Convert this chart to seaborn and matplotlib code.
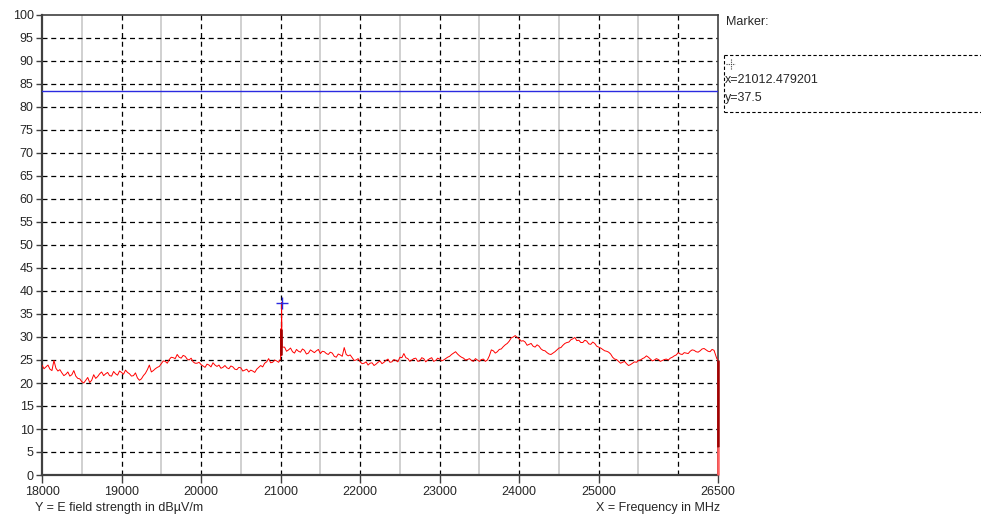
import numpy as np
import pandas as pd
import matplotlib
matplotlib.use("Agg")
import matplotlib.pyplot as plt
from matplotlib.lines import Line2D
import seaborn as sns

# Measured field strength trace, dBµV/m.
# Band A: 18000-21000 MHz, samples every 50 MHz plus the in-between readings.
level_a = [
    23.9, 23.5, 23.0, 24.9, 22.6, 22.2, 21.9, 21.5, 22.7, 21.0,
    20.3, 20.6, 20.1, 21.8, 21.4, 22.4, 22.0, 21.6, 22.5, 21.7,
    22.3, 22.8, 22.0, 21.6, 21.1, 20.9, 22.1, 23.9, 22.7, 23.4,
    24.2, 24.7, 25.1, 25.5, 26.2, 25.4, 25.8, 25.0, 24.6, 24.3,
    24.0, 23.4, 23.9, 24.4, 23.6, 23.2, 23.8, 23.1, 23.5, 22.9,
    23.3, 22.8, 22.4, 22.6, 23.0, 23.8, 24.3, 25.3, 24.5, 24.8,
    25.2,
]
level_a_mid = [
    23.1, 23.9, 22.7, 23.2, 22.9, 21.6, 22.4, 21.8, 21.5, 20.9,
    20.0, 21.2, 20.6, 21.0, 22.0, 21.6, 22.3, 21.5, 22.0, 22.6,
    21.9, 22.3, 21.5, 22.2, 20.6, 21.6, 22.9, 22.4, 23.1, 23.6,
    24.8, 24.3, 25.6, 25.3, 25.6, 26.0, 25.2, 25.4, 24.3, 24.5,
    23.7, 24.1, 23.5, 23.9, 23.9, 23.4, 23.3, 23.7, 23.0, 23.4,
    22.6, 23.0, 22.8, 22.3, 23.4, 23.5, 24.6, 24.4, 25.0, 24.5,
]
# Band B: 21050-26450 MHz
level_b = [
    27.8, 27.2, 26.8, 27.3, 26.7, 27.1, 26.5, 26.9, 27.0, 26.4,
    26.8, 26.2, 26.5, 25.6, 26.1, 27.7, 25.9, 25.5, 25.0, 24.6,
    24.3, 23.9, 24.4, 24.1, 24.8, 24.5, 25.2, 24.6, 24.9, 25.6,
    26.4, 25.3, 25.0, 25.4, 24.8, 25.3, 25.0, 25.5, 24.9, 25.2,
    25.0, 25.6, 26.2, 26.8, 25.9, 25.4, 25.1, 24.9, 25.3, 24.7,
    25.2, 25.0, 27.2, 26.5, 27.3, 27.9, 28.6, 29.8, 30.3, 29.6,
    29.2, 28.2, 28.6, 27.8, 28.0, 27.1, 26.6, 26.2, 26.8, 27.6,
    28.2, 28.8, 29.4, 29.9, 29.3, 28.8, 29.1, 28.4, 28.6, 27.8,
    27.3, 26.9, 26.3, 25.2, 24.7, 24.5, 24.2, 24.0, 24.6, 24.9,
    25.3, 25.9, 25.2, 25.0, 25.1, 24.9, 25.2, 25.4, 25.9, 26.6,
    26.2, 26.5, 26.9, 27.1, 26.7, 27.4, 27.2, 26.8, 27.1,
]
level_b_mid = [
    26.9, 27.6, 26.5, 26.9, 27.4, 26.3, 27.2, 26.6, 27.3, 26.9,
    26.4, 26.7, 25.8, 26.3, 25.8, 26.2, 26.1, 24.9, 25.3, 24.2,
    24.6, 24.3, 23.8, 24.5, 24.2, 24.9, 24.5, 25.1, 24.6, 25.5,
    25.5, 24.7, 25.3, 24.7, 25.5, 24.6, 25.3, 24.7, 25.4, 24.8,
    25.3, 25.8, 26.5, 26.3, 25.6, 25.0, 25.3, 24.7, 25.0, 25.1,
    24.7, 25.9, 27.0, 26.8, 27.4, 28.3, 29.1, 30.0, 29.9, 29.1,
    28.9, 28.4, 28.0, 28.3, 27.4, 27.0, 26.3, 26.5, 27.2, 27.7,
    28.6, 28.9, 29.6, 29.2, 28.8, 29.3, 28.5, 28.9, 28.0, 27.6,
    27.0, 26.7, 25.6, 25.1, 24.3, 24.7, 23.8, 24.3, 24.5, 25.0,
    25.5, 25.6, 24.8, 25.3, 24.7, 25.1, 25.0, 25.6, 26.1, 26.3,
    26.6, 26.4, 27.2, 26.8, 27.0, 27.5, 26.9, 27.3,
]
band_a_start, band_b_start, step = 18000, 21050, 50

# Narrow carrier near 21 GHz and the end of the sweep at 26.5 GHz
spike_freq = [21005, 21008, 21012.479201, 21016, 21020]
spike_level = [31.8, 26.0, 37.5, 31.5, 27.8]
end_freq = [26485, 26500, 26500, 26500]
end_level = [25.3, 25.0, 6.0, 0.0]

limit_level = 83.5
marker_x = 21012.479201
marker_y = 37.5

x_ticks = [18000, 19000, 20000, 21000, 22000, 23000, 24000, 25000, 26500]
y_ticks = list(range(0, 101, 5))
major_grid_x = [19000, 20000, 21000, 22000, 23000, 24000, 25000, 26000]
minor_grid_x = [18500, 19500, 20500, 21500, 22500, 23500, 24500, 25500]


def interleave(start, main, mid):
    f, v = [], []
    for i, val in enumerate(main):
        f.append(start + step * i)
        v.append(val)
        if i < len(mid):
            f.append(start + step * i + step / 2)
            v.append(mid[i])
    return f, v


fa, va = interleave(band_a_start, level_a, level_a_mid)
fb, vb = interleave(band_b_start, level_b, level_b_mid)
df = pd.DataFrame({
    "freq": fa + spike_freq + fb + end_freq,
    "level": va + spike_level + vb + end_level,
})

sns.set_theme(style="white")
plt.rcParams["font.family"] = ["Liberation Sans", "DejaVu Sans"]

W, H = 981, 520
fig = plt.figure(figsize=(W / 100, H / 100), dpi=100)
L, R, T, B = 42, 718, 15, 475
ax = fig.add_axes([L / W, 1 - B / H, (R - L) / W, (B - T) / H])
ax.set_facecolor("white")

ax.set_xlim(18000, 26500)
ax.set_ylim(0, 100)

# grid
for x in minor_grid_x:
    ax.axvline(x, color="#c8c8c8", lw=1.2, zorder=1)
for x in major_grid_x:
    ax.axvline(x, color="black", lw=0.9, ls=(0, (4, 3)), zorder=1)
for y in y_ticks[1:-1]:
    ax.axhline(y, color="black", lw=0.9, ls=(0, (4, 3)), zorder=1)

# limit line
ax.axhline(limit_level, color="#2a2ae0", lw=1.0, zorder=3)

# trace
sns.lineplot(data=df, x="freq", y="level", sort=False, estimator=None,
             color="#ff0000", lw=0.7, ax=ax, zorder=4)
ax.vlines(spike_freq[0], spike_level[1], spike_level[0], color="#a00000",
          lw=1.8, zorder=5)
ax.vlines(end_freq[1], end_level[2], end_level[1], color="#a00000",
          lw=1.8, zorder=6, clip_on=False)
ax.vlines(end_freq[2], end_level[3], end_level[2], color="#ff6060",
          lw=1.8, zorder=6, clip_on=False)

# marker
ax.plot([marker_x], [marker_y], marker="+", ms=9, mew=1.0,
        color="#2a2ae0", zorder=6)

ax.set_xticks(x_ticks)
ax.set_xticklabels([str(v) for v in x_ticks])
ax.set_yticks(y_ticks)
ax.set_yticklabels([str(v) for v in y_ticks])
ax.tick_params(axis="x", direction="out", length=6, width=1.0,
               color="#404040", labelsize=9, pad=2, bottom=True)
ax.tick_params(axis="y", direction="out", length=4, width=1.0,
               color="#404040", labelsize=9, pad=2, left=True)
ax.set_xlabel("")
ax.set_ylabel("")

for side in ["left", "bottom"]:
    ax.spines[side].set_color("#404040")
    ax.spines[side].set_linewidth(1.6)
for side in ["top", "right"]:
    ax.spines[side].set_color("#404040")
    ax.spines[side].set_linewidth(1.2)

# axis captions
fig.text(35 / W, 1 - 508 / H, "Y = E field strength in dBµV/m",
         ha="left", va="center", fontsize=9)
fig.text(720 / W, 1 - 508 / H, "X = Frequency in MHz",
         ha="right", va="center", fontsize=9)

# marker readout panel
fig.text(726 / W, 1 - 22 / H, "Marker:", ha="left", va="center", fontsize=9)
box_kw = dict(color="black", lw=0.8, ls=(0, (3, 2)), transform=fig.transFigure)
fig.add_artist(Line2D([724 / W, 1.0], [1 - 55 / H, 1 - 55 / H], **box_kw))
fig.add_artist(Line2D([724 / W, 1.0], [1 - 112 / H, 1 - 112 / H], **box_kw))
fig.add_artist(Line2D([724 / W, 724 / W], [1 - 55 / H, 1 - 112 / H], **box_kw))
ck = dict(color="#404040", lw=0.8, ls=(0, (1, 1)), transform=fig.transFigure)
fig.add_artist(Line2D([726 / W, 735 / W], [1 - 64 / H, 1 - 64 / H], **ck))
fig.add_artist(Line2D([730.5 / W, 730.5 / W], [1 - 59 / H, 1 - 69 / H], **ck))
fig.text(725 / W, 1 - 80 / H, f"x={marker_x:.6f}", ha="left", va="center",
         fontsize=9)
fig.text(725 / W, 1 - 98 / H, f"y={marker_y}", ha="left", va="center",
         fontsize=9)

fig.savefig("out.png", dpi=100, facecolor="white")
